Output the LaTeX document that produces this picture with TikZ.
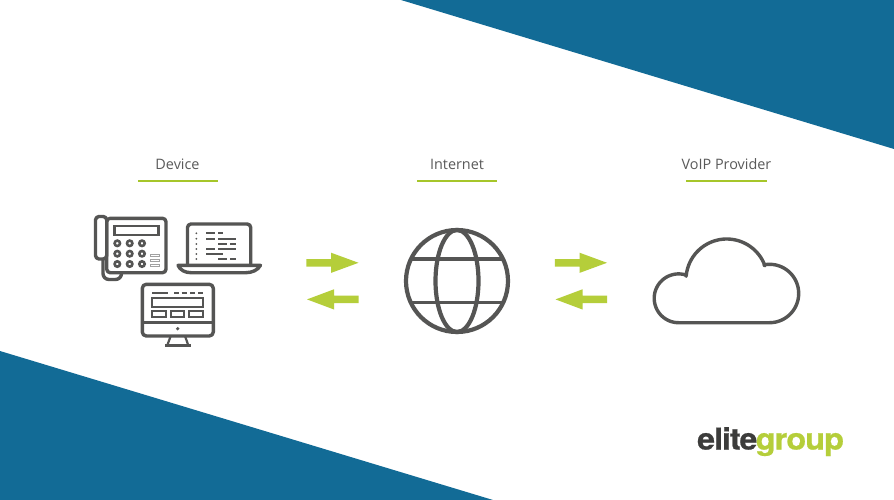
\documentclass[tikz,border=0pt]{standalone}
\usepackage{fontspec}
\setmainfont{Open Sans}
\newfontfamily\logofont[FakeBold=0.6,LetterSpace=-3]{TeX Gyre Heros Bold}
\definecolor{teal}{HTML}{126B96}
\definecolor{lime}{HTML}{B5CE3A}
\definecolor{rulegreen}{HTML}{A6C62A}
\definecolor{ink}{HTML}{555554}
\definecolor{logoink}{HTML}{3C3C3B}
\definecolor{titleink}{HTML}{5A5A5A}
\tikzset{
  icon/.style={draw=ink,line width=3.4pt,line join=round,fill=none},
  thin icon/.style={draw=ink,line width=2pt},
  code/.style={draw=ink,line width=1.8pt},
  bluewedge/.style={fill=teal,draw=none},
  flowarrow/.style={fill=lime,draw=none},
  greenrule/.style={fill=rulegreen,draw=none},
  title/.style={font=\fontsize{14.4}{16}\selectfont,text=titleink,inner sep=0pt,anchor=center},
}
\begin{document}
\begin{tikzpicture}[x=1pt,y=-1pt]
\useasboundingbox (0,0) rectangle (894,500);
\fill[white] (0,0) rectangle (894,500);
% wedges
\path[bluewedge] (401,0) -- (894,149) -- (894,0) -- cycle;
\path[bluewedge] (0,351) -- (493,500) -- (0,500) -- cycle;
% titles
\node[title] (tdevice) at (177.5,164.5) {Device};
\node[title] (tinternet) at (457,164.5) {Internet};
\node[title] (tprovider) at (726.5,164.5) {VoIP Provider};
\path[greenrule] (137.5,180.2) rectangle (218,182.2);
\path[greenrule] (417,180.2) rectangle (497,182.2);
\path[greenrule] (686,180.2) rectangle (767,182.2);
% arrows
\foreach \dx in {0,248.5}{
\begin{scope}[xshift=\dx pt]
\path[flowarrow] (306.3,259.2) -- (331,259.2) -- (331,252.7) -- (358.5,262.8) -- (331,272.9) -- (331,266.6) -- (306.3,266.6) -- cycle;
\path[flowarrow] (358.5,295.7) -- (334,295.7) -- (334,289.3) -- (307,299.4) -- (334,309.5) -- (334,303) -- (358.5,303) -- cycle;
\end{scope}}
% globe
\draw[icon,line width=4.2pt] (457,281) circle[radius=51];
\draw[icon,line width=4.2pt] (457,281) ellipse[x radius=21.5,y radius=51];
\draw[icon,line width=3.8pt] (411,259) -- (503,259);
\draw[icon,line width=3.8pt] (411,302.5) -- (503,302.5);
% cloud
\draw[icon,line width=3.4pt]
  plot[domain=90:286,samples=50] ({678.6+24.4*cos(\x)},{298.3+24.4*sin(\x)})
  -- plot[domain=185:340,samples=50] ({726.7+40.7*cos(\x)},{279.7+40.7*sin(\x)})
  -- plot[domain=259:450,samples=50] ({769.5+29.2*cos(\x)},{293.5+29.2*sin(\x)})
  -- cycle;
% phone
\draw[icon,rounded corners=3.5pt] (106.7,218.3) rectangle (166,272.7);
\draw[icon,rounded corners=3.5pt] (95.5,216.5) rectangle (106.7,259);
\draw[icon,rounded corners=6pt] (103,259) -- (103,279.5) -- (121.5,279.5) -- (121.5,272.7);
\draw[thin icon,line width=2.4pt] (114.3,225.7) rectangle (158.3,235);
\foreach \cx in {117.3,129.7,142}\foreach \cy in {243.3,253.7,264}
  \draw[thin icon,line width=2.6pt] (\cx,\cy) circle[radius=2.7];
\foreach \cy in {255.3,260.5,265.7}
  \draw[draw=ink!55,line width=1pt] (150.7,\cy-1) rectangle (159.3,\cy+1);
% laptop
\draw[icon,rounded corners=3.5pt] (187.5,265.3) -- (187.5,224) -- (250.7,224) -- (250.7,265.3);
\draw[icon] (178,265.3) -- (260.5,265.3) .. controls (258,270) and (252,272.7) .. (246,272.7) -- (191,272.7) .. controls (185,272.7) and (180,270) .. cycle;
\foreach \cy in {233.3,238.7,244,249,254,259}
  \fill[ink] (196.3,\cy) circle[radius=1];
\foreach \xa/\xb/\cy in {206/214.7/233.3,218.3/223.3/233.3,206/214.7/238.7,218.3/236/238.7,218.3/226.7/243.7,230/236/243.7,206/214.7/248.7,218.3/236/248.7,206/214.7/253.7,214.7/223.3/253.7,218.3/226.7/258.7,230/236/258.7}
  \draw[code] (\xa,\cy) -- (\xb,\cy);
% monitor
\draw[icon,rounded corners=4pt] (142.3,284.3) rectangle (213.3,336);
\draw[icon] (142.3,322.7) -- (213.3,322.7);
\fill[ink] (177.7,328.7) circle[radius=1.8];
\draw[icon,line width=2.2pt] (170.7,336) -- (167.3,345.3);
\draw[icon,line width=2.2pt] (185,336) -- (188.3,345.3);
\draw[icon,line width=2.4pt] (165,345.3) -- (190.7,345.3);
\foreach \xa/\xb in {152.3/168.3,174.3/179,181.7/186.7,190/195,198.3/203.3}
  \draw[code] (\xa,293.3) -- (\xb,293.3);
\draw[thin icon] (152.3,297.7) rectangle (202.7,306.7);
\draw[thin icon] (152.3,311) rectangle (165.7,317.3);
\draw[thin icon] (170.7,311) rectangle (184,317.3);
\draw[thin icon] (189.3,311) rectangle (202.7,317.3);
% logo
\node[anchor=base west,inner sep=0pt,text=logoink] (logoa) at (697,449.5) {\scalebox{1.07}[1]{\logofont\fontsize{30}{30}\selectfont elite}};
\node[anchor=base west,inner sep=0pt,text=lime] (logob) at (755.5,449.5) {\scalebox{1.085}[1]{\logofont\fontsize{30}{30}\selectfont group}};
\end{tikzpicture}
\end{document}
